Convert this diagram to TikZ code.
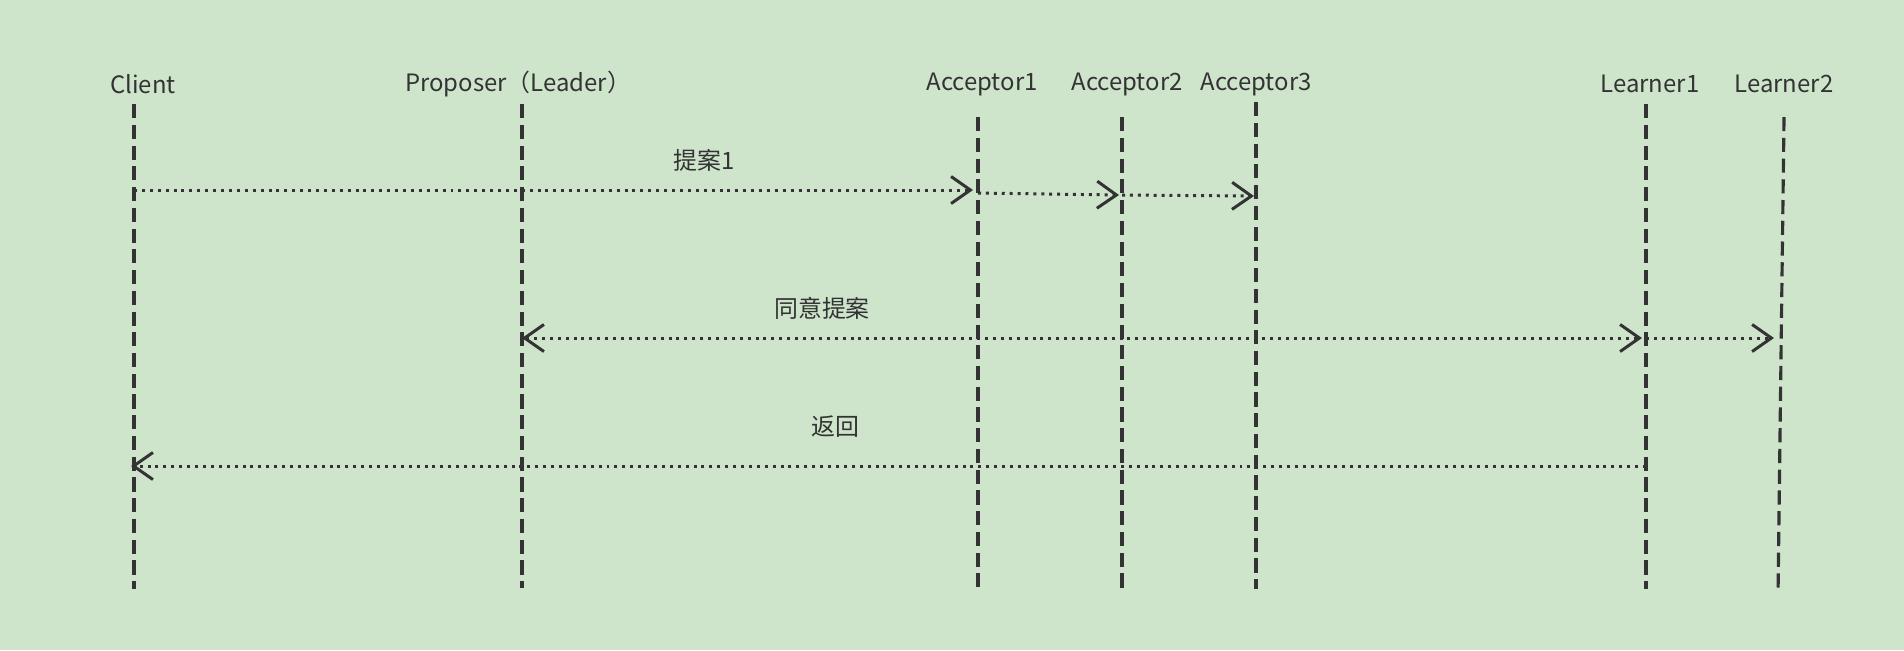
\documentclass[tikz,border=0pt]{standalone}
\usepackage{fontspec}
\newfontfamily\cjk{Noto Sans CJK SC}
\usetikzlibrary{arrows.meta}

\definecolor{bggreen}{RGB}{206,229,204}
\definecolor{ink}{RGB}{51,51,51}

\begin{document}
\begin{tikzpicture}[
    x=0.01cm, y=-0.01cm,
    >={Straight Barb[length=5.5pt, width=7.7pt]},
    actor/.style={text=ink, inner sep=0pt, font=\cjk\fontsize{6.8pt}{8.2pt}\selectfont},
    msglabel/.style={text=ink, inner sep=0pt, font=\cjk\fontsize{6.8pt}{8.2pt}\selectfont},
    lifeline/.style={draw=ink, line width=0.9pt, dash pattern=on 4pt off 1.9pt},
    msg/.style={draw=ink, line width=0.85pt, dash pattern=on 0.85pt off 1.4pt}
]
\fill[bggreen] (0,0) rectangle (1904,650);

% participants
\node[actor] (client) at (143,84) {Client};
\node[actor] (proposer) at (518,84) {Proposer（Leader）};
\node[actor] (acc1) at (982,84) {Acceptor1};
\node[actor] (acc2) at (1127,84) {Acceptor2};
\node[actor] (acc3) at (1256,84) {Acceptor3};
\node[actor] (learn1) at (1650,84) {Learner1};
\node[actor] (learn2) at (1784,84) {Learner2};

% lifelines
\coordinate (clientTop) at (134,104);   \coordinate (clientBot) at (134,589);
\coordinate (proposerTop) at (522,104); \coordinate (proposerBot) at (522,588);
\coordinate (acc1Top) at (978,117);     \coordinate (acc1Bot) at (978,587);
\coordinate (acc2Top) at (1122,117);    \coordinate (acc2Bot) at (1122,588);
\coordinate (acc3Top) at (1256,102);    \coordinate (acc3Bot) at (1256,589);
\coordinate (learn1Top) at (1646,104);  \coordinate (learn1Bot) at (1646,589);
\coordinate (learn2Top) at (1784,117);  \coordinate (learn2Bot) at (1778,594);

\draw[lifeline] (clientTop) -- (clientBot);
\draw[lifeline] (proposerTop) -- (proposerBot);
\draw[lifeline] (acc1Top) -- (acc1Bot);
\draw[lifeline] (acc2Top) -- (acc2Bot);
\draw[lifeline] (acc3Top) -- (acc3Bot);
\draw[lifeline] (learn1Top) -- (learn1Bot);
\draw[lifeline] (learn2Top) -- (learn2Bot);

% messages
\coordinate (p1Client) at (134,190);
\coordinate (p1Acc1In) at (973,190);
\coordinate (p1Acc1Out) at (978,193);
\coordinate (p1Acc2In) at (1119,195);
\coordinate (p1Acc2Out) at (1122,195);
\coordinate (p1Acc3In) at (1254,196);
\draw[msg, ->] (p1Client) -- (p1Acc1In);
\draw[msg, ->] (p1Acc1Out) -- (p1Acc2In);
\draw[msg, ->] (p1Acc2Out) -- (p1Acc3In);
\node[msglabel] (lblPropose) at (704,160) {提案1};

\coordinate (okProposer) at (522,338);
\coordinate (okLearn1In) at (1642,338);
\coordinate (okLearn1Out) at (1646,338);
\coordinate (okLearn2In) at (1774,338);
\draw[msg, <->] (okProposer) -- (okLearn1In);
\draw[msg, ->] (okLearn1Out) -- (okLearn2In);
\node[msglabel] (lblAgree) at (822,308) {同意提案};

\coordinate (retLearn1) at (1646,466);
\coordinate (retClient) at (131,466);
\draw[msg, ->] (retLearn1) -- (retClient);
\node[msglabel] (lblReturn) at (835,427) {返回};
\end{tikzpicture}
\end{document}
